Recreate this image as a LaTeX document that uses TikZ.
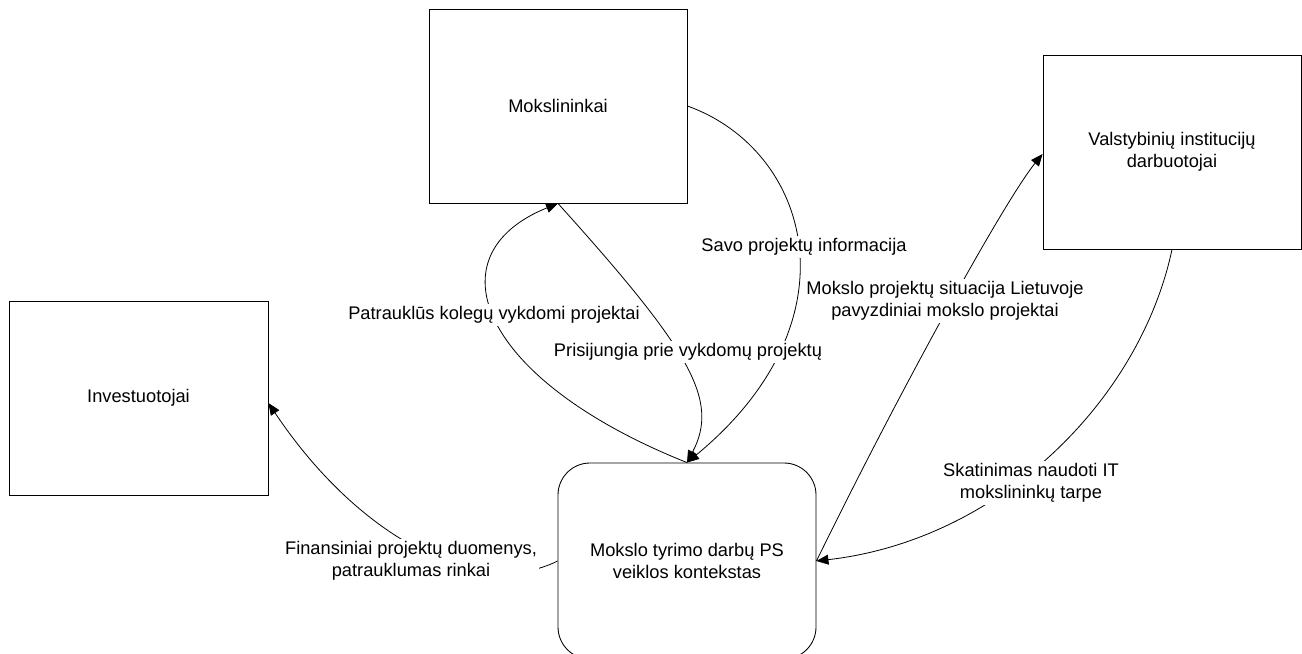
\documentclass[tikz,border=0pt]{standalone}
\usepackage{fontspec}
\setmainfont{Liberation Sans}
\usetikzlibrary{arrows.meta,calc}
\newcommand\lblfont{\fontsize{13.7}{16.5}\selectfont}
\begin{document}
\begin{tikzpicture}[x=0.75pt,y=-0.75pt,
  box/.style={draw=black, line width=0.65pt, minimum width=258*0.75pt, minimum height=194*0.75pt, align=center, inner sep=0pt, font=\lblfont},
  rbox/.style={box, rounded corners=24pt, minimum height=196*0.75pt},
  conn/.style={draw=black, line width=0.6pt, -{Triangle[length=9pt,width=7.5pt]}},
  lbl/.style={fill=white, align=center, inner sep=1.5pt, font=\lblfont}]
\useasboundingbox (0,0) rectangle (1302,653);
\fill[white] (0,0) rectangle (1302,653);
\node[box] (mok) at (558,106) {Mokslininkai};
\node[box] (val) at (1172,152) {Valstybinių institucijų\\darbuotojai};
\node[box, minimum width=259*0.75pt] (inv) at (138.5,398) {Investuotojai};
\node[rbox] (cen) at (687,561) {Mokslo tyrimo darbų PS\\veiklos kontekstas};
\draw[conn] (cen.north) .. controls (480,380) and (430,255) .. (mok.south);
\draw[conn] (mok.south) .. controls (690,350) and (720,400) .. (cen.north);
\draw[conn] (mok.east) .. controls (810,150) and (860,320) .. (cen.north);
\draw[conn] (cen.west) .. controls (480,600) and (360,540) .. ($(inv.east)+(0,5)$);
\draw[conn] (cen.east) .. controls (900,390) and (1005,200) .. ($(val.west)+(0,2)$);
\draw[conn] (val.south) .. controls (1140,400) and (1000,540) .. (cen.east);
\node[lbl] (l1) at (494,315) {Patrauklūs kolegų vykdomi projektai};
\node[lbl] (l2) at (688,352) {Prisijungia prie vykdomų projektų};
\node[lbl] (l3) at (804,247) {Savo projektų informacija};
\node[lbl] (l4) at (411,561) {Finansiniai projektų duomenys,\\patrauklumas rinkai};
\node[lbl] (l5) at (945,301) {Mokslo projektų situacija Lietuvoje\\pavyzdiniai mokslo projektai};
\node[lbl] (l6) at (1031,483) {Skatinimas naudoti IT\\mokslininkų tarpe};
\end{tikzpicture}
\end{document}
